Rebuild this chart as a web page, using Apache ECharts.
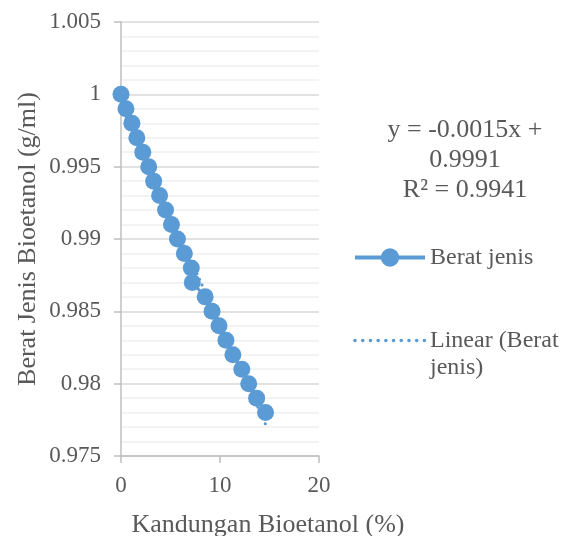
<!DOCTYPE html>
<html>
<head>
<meta charset="utf-8">
<script src="https://cdn.jsdelivr.net/npm/echarts@6/dist/echarts.min.js"></script>
<style>
  html, body { margin: 0; padding: 0; background: #fff; }
  #chart { width: 571px; height: 536px; }
</style>
</head>
<body>
<div id="chart"></div>
<script>
    // kandungan bioetanol (%) vs berat jenis (g/ml)
    const kandungan = [0, 0.5, 1.1, 1.6, 2.2, 2.8, 3.3, 3.9, 4.5, 5.1, 5.7, 6.4,
        7.1, 7.2, 8.5, 9.2, 9.9, 10.6, 11.3, 12.2, 12.9, 13.7, 14.6]
    const beratJenis = [1.000, 0.999, 0.998, 0.997, 0.996, 0.995, 0.994, 0.993,
        0.992, 0.991, 0.990, 0.989, 0.988, 0.987, 0.986, 0.985, 0.984, 0.983,
        0.982, 0.981, 0.980, 0.979, 0.978]
    // garis trend (dari persamaan y = -0.0015x + 0.9991)
    const trendX = [0, 14.6]
    const trendY = [0.9991, 0.97720]

    const fontFam = '"Liberation Serif", "DejaVu Serif", serif'
    const textColor = '#595959'
    const blue = '#5B9BD5'

    const zip = (xs, ys) => xs.map((x, i) => [x, ys[i]])

    let options = {
        animation: false,
        textStyle: { fontFamily: fontFam, color: textColor },
        grid: { left: 121, right: 252, top: 22, bottom: 80, outerBoundsMode: 'none', containLabel: false },
        xAxis: {
            type: 'value',
            min: 0, max: 20, interval: 10,
            name: 'Kandungan Bioetanol (%)',
            nameLocation: 'middle',
            nameGap: 56,
            // judul sumbu x agak bergeser ke kanan
            nameTextStyle: { fontSize: 26, color: textColor, fontFamily: fontFam, padding: [0, 0, 0, 96] },
            axisLine: { lineStyle: { color: '#BFBFBF', width: 1.5 } },
            axisTick: { show: true, length: 7, lineStyle: { color: '#BFBFBF', width: 1.5 } },
            axisLabel: { fontSize: 23, color: textColor, fontFamily: fontFam, margin: 18 },
            splitLine: { show: false }
        },
        yAxis: {
            type: 'value',
            min: 0.975, max: 1.005, interval: 0.005,
            name: 'Berat Jenis Bioetanol (g/ml)',
            nameLocation: 'middle',
            nameGap: 80,
            nameTextStyle: { fontSize: 26, color: textColor, fontFamily: fontFam },
            axisLine: { show: true, lineStyle: { color: '#BFBFBF', width: 1.5 } },
            axisTick: { show: true, length: 7, lineStyle: { color: '#BFBFBF', width: 1.5 } },
            axisLabel: {
                fontSize: 23, color: textColor, fontFamily: fontFam, margin: 20,
                formatter: v => String(parseFloat(v.toFixed(3)))
            },
            splitLine: { show: true, lineStyle: { color: '#D9D9D9', width: 1.5 } },
            minorTick: { show: false, splitNumber: 5 },
            minorSplitLine: { show: true, lineStyle: { color: '#F0F0F0', width: 1.5 } }
        },
        legend: {
            orient: 'vertical',
            left: 353,
            top: 244,
            padding: 0,
            itemWidth: 70,
            itemHeight: 23,
            itemGap: 29,
            textStyle: { fontSize: 24, color: textColor, fontFamily: fontFam, lineHeight: 27 },
            // baris kosong supaya "Linear (Berat" sejajar dengan ikon
            formatter: name => name.startsWith('Linear') ? '\n' + name : name,
            data: [
                { name: 'Berat jenis', lineStyle: { width: 4 } },
                {
                    name: 'Linear (Berat\njenis)',
                    itemStyle: { opacity: 0 },
                    lineStyle: { width: 3.5, type: [0.1, 7.6], cap: 'round' }
                }
            ]
        },
        graphic: [
            {
                type: 'text',
                x: 465, y: 115,
                style: {
                    text: 'y = -0.0015x +\n0.9991\nR² = 0.9941',
                    align: 'center',
                    verticalAlign: 'top',
                    fontSize: 26,
                    lineHeight: 30,
                    fontFamily: fontFam,
                    fill: textColor
                }
            }
        ],
        series: [
            {
                name: 'Berat jenis',
                type: 'line',
                data: zip(kandungan, beratJenis),
                symbol: 'circle',
                symbolSize: 17,
                itemStyle: { color: blue },
                lineStyle: { color: blue, width: 3 },
                z: 3
            },
            {
                name: 'Linear (Berat\njenis)',
                type: 'line',
                data: zip(trendX, trendY),
                symbol: 'none',
                itemStyle: { color: blue },
                lineStyle: { color: blue, width: 3, type: [0.1, 6], cap: 'round' },
                z: 2
            }
        ]
    }

    const myChart = echarts.init(document.getElementById('chart'))
    myChart.setOption(options)
</script>
</body>
</html>
